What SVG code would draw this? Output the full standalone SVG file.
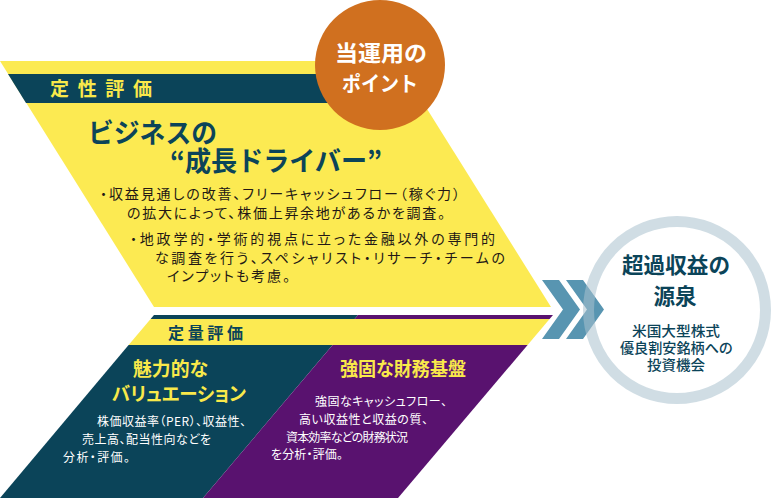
<svg xmlns="http://www.w3.org/2000/svg" width="772" height="500" viewBox="0 0 772 500">
<style>
text{font-family:"Noto Sans CJK JP","Noto Sans",sans-serif;}
.yel{fill:#fcea52;}
.teal{fill:#0b4459;}
.pur{fill:#59126f;}
.hd{font-weight:700;fill:#0b4459;}
.body{font-size:14px;fill:#231815;font-weight:400;font-feature-settings:"palt";}
.ylw{font-weight:700;fill:#f9e94a;font-feature-settings:"palt";}
.wdesc{font-size:12px;fill:#ffffff;font-weight:400;font-feature-settings:"palt";}
.sub{font-size:14px;font-weight:500;fill:#0b4459;}
.chev{fill:#5895b1;}
</style>
<rect width="772" height="500" fill="#ffffff"/>

<g id="qualitative">
  <polygon class="yel" points="0,61 397,61 551,307 154,307"/>
  <polygon class="teal" points="8,74 380,74 380,103 26,103"/>
  <text x="50" y="95.5" font-size="19" class="ylw" textLength="102" lengthAdjust="spacing">定性評価</text>
  <text x="88" y="143" font-size="27" class="hd" textLength="129" lengthAdjust="spacingAndGlyphs">ビジネスの</text>
  <text x="170" y="170.5" font-size="27" class="hd" textLength="212" lengthAdjust="spacingAndGlyphs">“成長ドライバー”</text>
  <text x="100" y="199" class="body" textLength="360" lengthAdjust="spacing">・収益見通しの改善、フリーキャッシュフロー（稼ぐ力）</text>
  <text x="127" y="218" class="body" textLength="318" lengthAdjust="spacing">の拡大によって、株価上昇余地があるかを調査。</text>
  <text x="130" y="243.5" class="body" textLength="365" lengthAdjust="spacing">・地政学的・学術的視点に立った金融以外の専門的</text>
  <text x="155" y="262.5" class="body" textLength="350" lengthAdjust="spacing">な調査を行う、スペシャリスト・リサーチ・チームの</text>
  <text x="167" y="281" class="body" textLength="123" lengthAdjust="spacing">インプットも考慮。</text>
</g>

<g id="point-badge">
  <circle cx="380" cy="65" r="65" fill="#d0701f"/>
  <text x="381" y="60.5" font-size="22" font-weight="700" fill="#ffffff" text-anchor="middle" textLength="92" lengthAdjust="spacingAndGlyphs">当運用の</text>
  <text x="380" y="91" font-size="21" font-weight="700" fill="#ffffff" text-anchor="middle" textLength="76" lengthAdjust="spacingAndGlyphs">ポイント</text>
</g>

<g id="quantitative">
  <polygon class="teal" points="154,315 358,315 354.6,319 150.6,319"/>
  <polygon class="pur" points="358,315 553,315 549.6,319 354.6,319"/>
  <polygon class="yel" points="150.6,319 549.6,319 527.6,345 128.6,345"/>
  <text x="168" y="338.5" font-size="16" class="hd" textLength="75" lengthAdjust="spacing">定量評価</text>
</g>

<g id="valuation">
  <polygon class="teal" points="128.6,345 332.6,345 203,498 0,498"/>
  <text x="133" y="376" font-size="19" class="ylw" textLength="75" lengthAdjust="spacingAndGlyphs">魅力的な</text>
  <text x="112" y="401" font-size="19" class="ylw" textLength="134" lengthAdjust="spacingAndGlyphs">バリュエーション</text>
  <text x="97" y="425.5" class="wdesc" textLength="149" lengthAdjust="spacing">株価収益率（PER）、収益性、</text>
  <text x="82" y="443.5" class="wdesc" textLength="129" lengthAdjust="spacing">売上高、配当性向などを</text>
  <text x="63" y="462" class="wdesc" textLength="67" lengthAdjust="spacing">分析・評価。</text>
</g>

<g id="financial">
  <polygon class="pur" points="332.6,345 527.6,345 398,498 203,498"/>
  <text x="340" y="376" font-size="19" class="ylw" textLength="126" lengthAdjust="spacingAndGlyphs">強固な財務基盤</text>
  <text x="315" y="405.5" class="wdesc" textLength="132" lengthAdjust="spacing">強固なキャッシュフロー、</text>
  <text x="299" y="423.5" class="wdesc" textLength="129" lengthAdjust="spacing">高い収益性と収益の質、</text>
  <text x="286" y="442" class="wdesc" textLength="122" lengthAdjust="spacing">資本効率などの財務状況</text>
  <text x="271" y="458.5" class="wdesc" textLength="72" lengthAdjust="spacing">を分析・評価。</text>
</g>

<g id="connectors">
  <polygon class="chev" points="542,280 559,280 580,309.5 559,339 542,339 563,309.5"/>
  <polygon class="chev" points="566,280 583,280 604,309.5 583,339 566,339 587,309.5"/>
</g>

<g id="excess-return">
  <circle cx="677" cy="310" r="88.5" fill="none" stroke="#a9c1cd" stroke-opacity="0.55" stroke-width="11"/>
  <text x="676" y="273" font-size="21.5" class="hd" text-anchor="middle" textLength="108" lengthAdjust="spacingAndGlyphs">超過収益の</text>
  <text x="675" y="304" font-size="21.5" class="hd" text-anchor="middle">源泉</text>
  <text x="676" y="335.5" class="sub" text-anchor="middle" textLength="88" lengthAdjust="spacingAndGlyphs">米国大型株式</text>
  <text x="676.5" y="352.5" class="sub" text-anchor="middle" textLength="113" lengthAdjust="spacingAndGlyphs">優良割安銘柄への</text>
  <text x="676" y="369.5" class="sub" text-anchor="middle" textLength="58" lengthAdjust="spacingAndGlyphs">投資機会</text>
</g>
</svg>
